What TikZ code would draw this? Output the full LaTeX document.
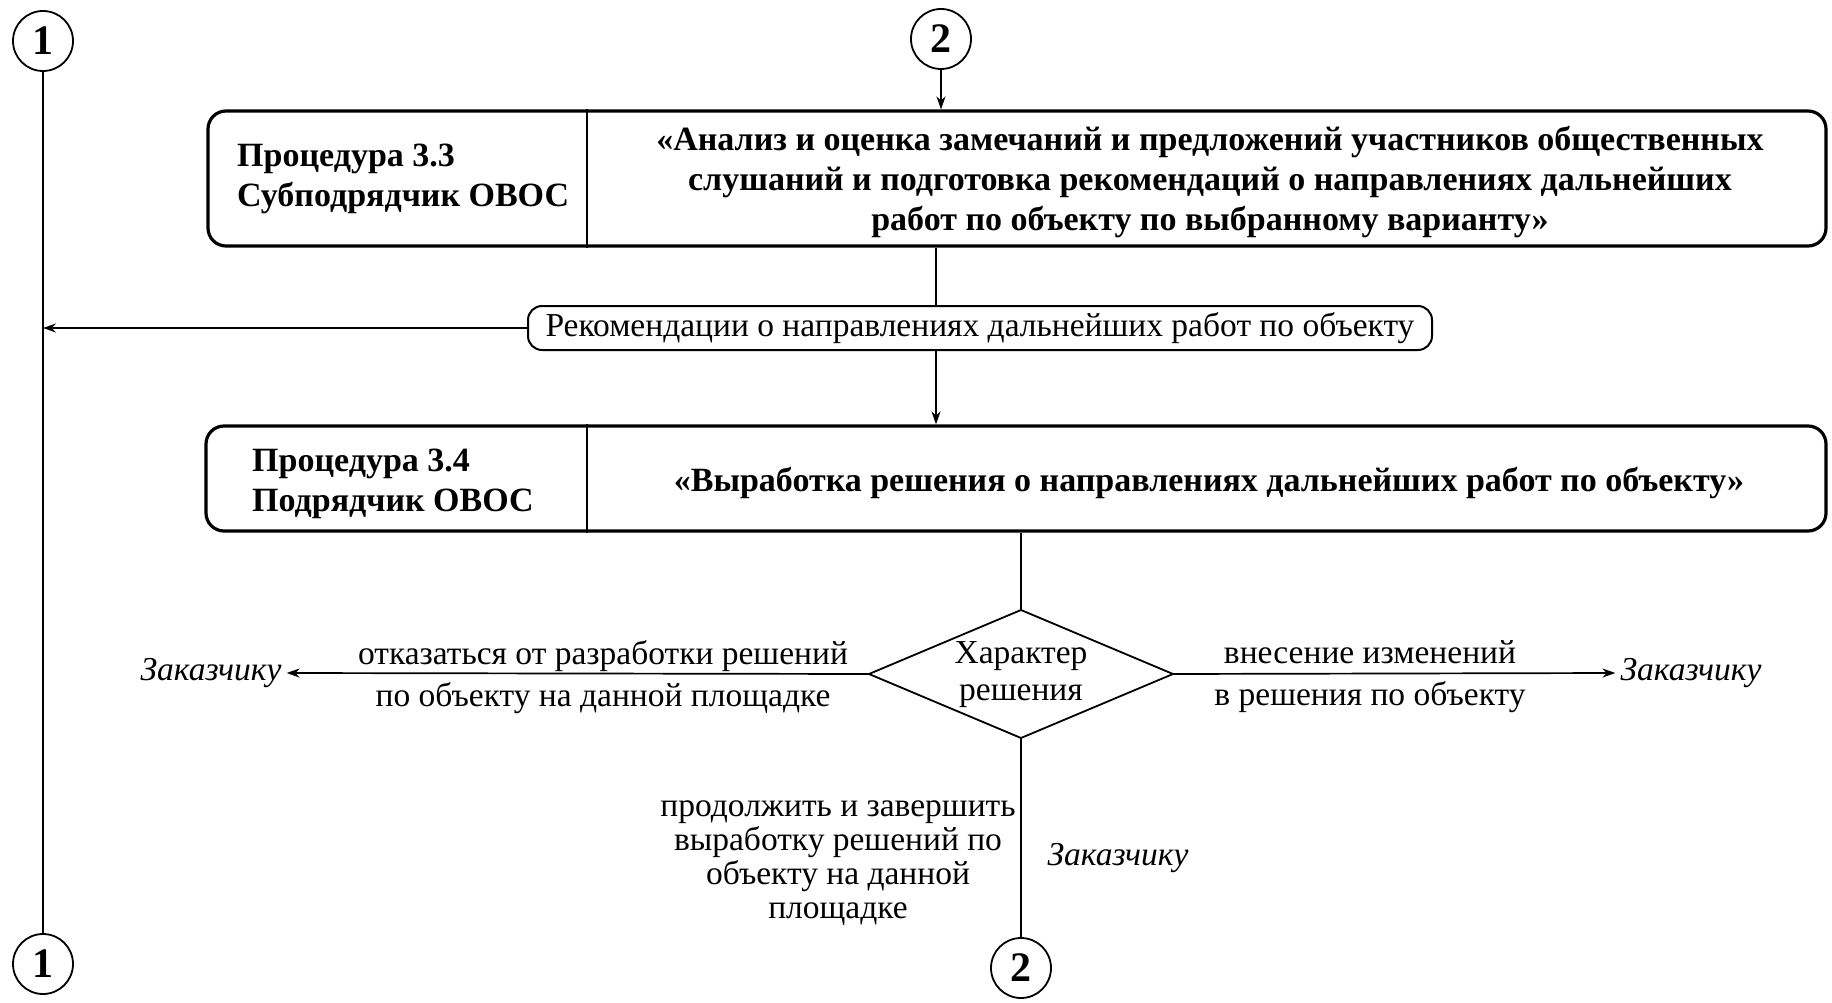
\documentclass[tikz,border=0pt]{standalone}
\usepackage{fontspec}
\setmainfont{Liberation Serif}
\usetikzlibrary{arrows.meta,calc}

\tikzset{
  procbox/.style={draw, line width=3.2pt, rounded corners=18pt, inner sep=0pt},
  recbox/.style={draw, line width=2pt, rounded corners=14pt, inner sep=0pt},
  conn/.style={draw, circle, line width=1.8pt, minimum size=60pt, inner sep=0pt,
    font=\fontsize{42}{42}\selectfont\bfseries},
  txt/.style={inner sep=2pt, font=\fontsize{33.5}{34}\selectfont},
  boldtxt/.style={inner sep=0pt, font=\fontsize{34}{40}\selectfont\bfseries},
  target/.style={inner sep=5pt, font=\fontsize{33.5}{34}\selectfont\itshape},
  link/.style={line width=1.7pt},
  arr/.style={link, -{Stealth[length=13pt,width=9pt]}},
}

\begin{document}
\begin{tikzpicture}[x=1pt,y=-1pt]
\useasboundingbox[fill=white] (0,0) rectangle (1832,1003);

% off-page connectors
\node[conn] (c1top) at (43,41) {1};
\node[conn] (c1bot) at (43,964) {1};
\node[conn] (c2top) at (941,39) {2};
\node[conn] (c2bot) at (1021,968) {2};

% procedure 3.3
\node[procbox, minimum width=1618pt, minimum height=135pt] (box33) at (1017,178.5) {};
\draw[line width=2pt] (box33.north -| 587,0) -- (box33.south -| 587,0);
\node[boldtxt, anchor=west, align=left] (who33) at (237,179)
  {Процедура 3.3\\Субподрядчик ОВОС};
\node[boldtxt, align=center] (task33) at (1210,182)
  {«Анализ и оценка замечаний и предложений участников общественных\\
   слушаний и подготовка рекомендаций о направлениях дальнейших\\
   работ по объекту по выбранному варианту»};

% recommendations document
\node[recbox, minimum width=904pt, minimum height=44pt, txt] (rec) at (980,328)
  {Рекомендации о направлениях дальнейших работ по объекту};

% procedure 3.4
\node[procbox, minimum width=1620pt, minimum height=105pt] (box34) at (1016,478.5) {};
\draw[line width=2pt] (box34.north -| 587,0) -- (box34.south -| 587,0);
\node[boldtxt, anchor=west, align=left] (who34) at (252,484)
  {Процедура 3.4\\Подрядчик ОВОС};
\node[boldtxt] (task34) at (1209,483)
  {«Выработка решения о направлениях дальнейших работ по объекту»};

% decision
\coordinate (dtop) at (1021,610);
\coordinate (dleft) at (869,674);
\coordinate (dright) at (1173,674);
\coordinate (dbot) at (1021,738);
\draw[line width=1.8pt] (dtop) -- (dright) -- (dbot) -- (dleft) -- cycle;
\node[txt, align=center, font=\fontsize{33.5}{37}\selectfont] (dec) at (1021,675)
  {Характер\\решения};

% recipients
\node[target] (zl) at (211,673) {Заказчику};
\node[target] (zr) at (1691,673) {Заказчику};
\node[target] (zb) at (1118,858) {Заказчику};

% branch labels
\node[txt, align=center] (lbl) at (603,677)
  {отказаться от разработки решений\\[8pt]по объекту на данной площадке};
\node[txt, align=center] (lbr) at (1370,677)
  {внесение изменений\\[8pt]в решения по объекту};
\node[txt, align=center] (lbb) at (838,863)
  {продолжить и завершить\\выработку решений по\\объекту на данной\\площадке};

% connectors
\coordinate (vx) at (936,0);
\draw[link] (c1top.south) -- (c1bot.north);
\draw[arr] (c2top.south) -- (box33.north -| c2top);
\draw[link] (box33.south -| vx) -- (rec.north -| vx);
\draw[arr] (rec.south -| vx) -- (box34.north -| vx);
\draw[arr] (rec.west) -- (rec.west -| c1top);
\draw[link] (box34.south -| dtop) -- (dtop);
\draw[arr] (dleft) -- (zl.east);
\draw[arr] (dright) -- (zr.west);
\draw[link] (dbot) -- (c2bot.north);
\end{tikzpicture}
\end{document}
